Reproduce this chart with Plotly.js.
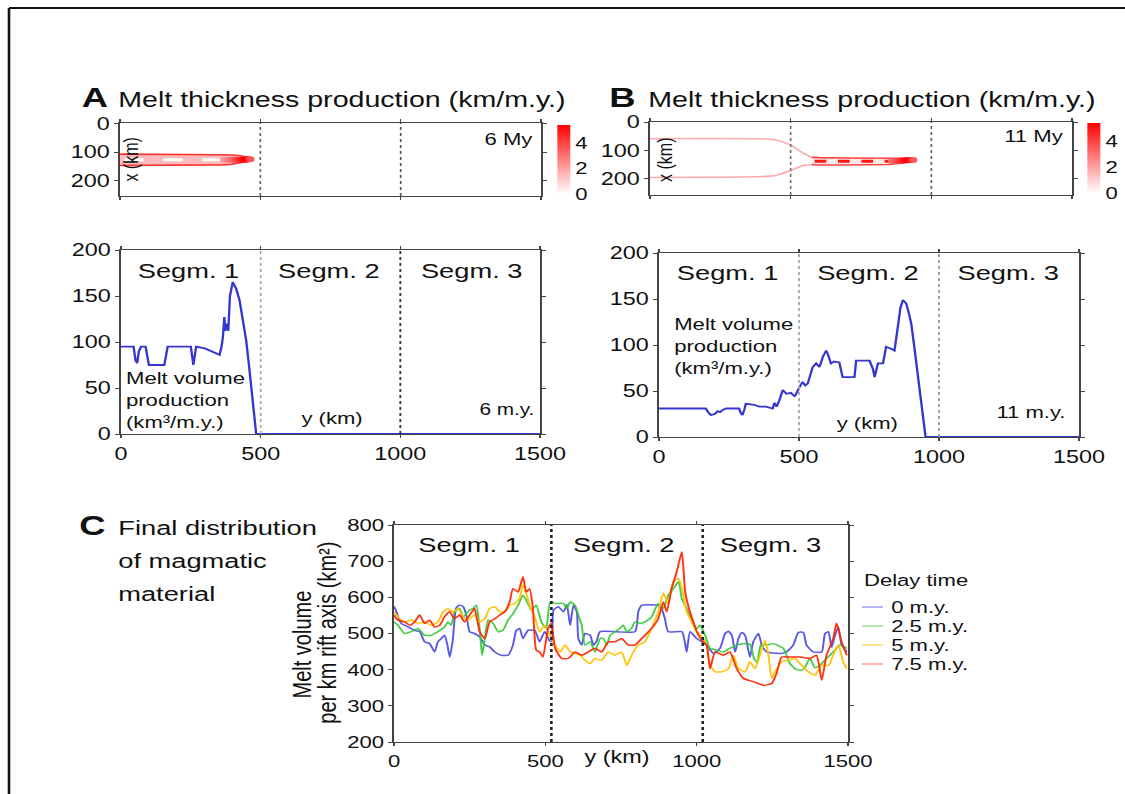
<!DOCTYPE html>
<html><head><meta charset="utf-8">
<script src="https://cdn.plot.ly/plotly-3.0.1.min.js"></script>
<style>
html,body{margin:0;padding:0;background:#fff;overflow:hidden;}
#wrap{width:866px;height:794px;transform:scaleX(1.2991);transform-origin:0 0;}
</style></head><body><div id="wrap"></div>
<script>
// ---------------- data ----------------
const segLabels = ['Segm. 1', 'Segm. 2', 'Segm. 3'];
const segBoundsAB = [500, 1000];
const segBoundsC = [520, 1020];
const xTicks = [0, 500, 1000, 1500];
const xTickText = ['0', '500', '1000', '1500'];

// Panel A top (6 My): melt band, along-axis y (km) vs cross-axis x (km)
const bandA_y = [0, 120, 250, 368, 400, 430, 452, 463];
const bandA_upper = [107, 107, 108, 109, 110, 113, 118, 124];
const bandA_lower = [147, 147, 146, 145, 143, 138, 133, 128];
const streakA_y = [15, 425];
const streakA_x = [127, 127];
const tipA_y = [370, 382, 394, 406, 418, 428, 438, 446, 454, 460, 465];
const tipA_x = [127, 127, 127, 127, 127, 127, 126, 126, 126, 125, 125];
const tipA_z = [2.2, 2.6, 3.0, 3.5, 4.0, 4.6, 5.2, 5.4, 5.2, 4.6, 3.6];

// Panel B top (11 My)
const branchB_y = [0, 400, 450, 500, 545, 575];
const branchB_upper = [59, 60, 64, 82, 110, 125];
const branchB_lower = [196, 193, 188, 171, 154, 151];
const bandB_y = [575, 600, 700, 850, 900, 936];
const bandB_upper = [125, 126, 127, 126, 128, 134];
const bandB_lower = [151, 152, 152, 150, 145, 134];
const coreB_y = [585, 880];
const coreB_x = [139, 139];
const tipB_y = [860, 870, 880, 890, 900, 910, 918, 926, 932, 937];
const tipB_x = [138, 138, 137, 137, 136, 135, 135, 134, 134, 134];
const tipB_z = [3.0, 3.4, 3.9, 4.4, 4.9, 5.3, 5.4, 5.0, 4.4, 3.4];

// Panel A bottom: melt volume production, 6 m.y.
const prodA_y = [0, 45, 52, 58, 64, 72, 88, 95, 100, 155, 162, 167, 250, 255, 259, 264, 269, 300, 353, 360, 365, 370, 373, 376, 380, 384, 390, 400, 412, 424, 436, 448, 458, 466, 472, 478, 484, 1500];
const prodA_v = [95, 95, 80, 77, 90, 95, 95, 80, 75, 75, 88, 95, 95, 82, 75, 85, 95, 93, 86, 95, 106, 127, 112, 116, 120, 112, 150, 165, 158, 146, 125, 102, 75, 51, 32, 15, 0, 0];

// Panel B bottom: melt volume production, 11 m.y.
const prodB_y = [0, 167, 178, 185, 200, 209, 218, 225, 239, 286, 292, 298, 305, 310, 340, 358, 382, 400, 406, 412, 420, 430, 442, 455, 471, 485, 492, 501, 513, 522, 531, 540, 549, 561, 573, 585, 597, 603, 608, 614, 625, 644, 652, 656, 698, 701, 704, 752, 758, 764, 770, 776, 782, 800, 806, 811, 829, 841, 853, 862, 871, 883, 892, 901, 910, 919, 931, 943, 952, 1500];
const prodB_v = [31, 31, 26, 24, 25, 28, 27, 29, 31, 31, 26, 24, 30, 36, 35, 33, 33, 32, 31, 37, 33, 40, 51, 47, 48, 44, 49, 54, 60, 56, 58, 68, 76, 80, 76, 87, 94, 90, 85, 80, 82, 81, 70, 65, 65, 75, 83, 83, 78, 74, 65, 72, 80, 80, 90, 98, 96, 94, 120, 140, 149, 145, 135, 123, 102, 80, 43, 14, 0, 0];

// Panel C: final melt volume per km rift axis, by delay time
const delayLabels = ['0 m.y.', '2.5 m.y.', '5 m.y.', '7.5 m.y.'];
const c0_y = [0, 8, 16, 24, 46, 68, 85, 101, 118, 134, 145, 156, 167, 176, 184, 194, 205, 215, 228, 239, 250, 266, 283, 300, 316, 333, 355, 377, 393, 404, 415, 426, 443, 465, 481, 498, 514, 521, 527, 543, 560, 571, 582, 593, 604, 609, 620, 631, 648, 659, 670, 681, 796, 807, 818, 873, 884, 895, 906, 951, 960, 967, 978, 1000, 1017, 1033, 1055, 1077, 1094, 1105, 1116, 1127, 1138, 1149, 1160, 1176, 1187, 1204, 1215, 1231, 1275, 1297, 1319, 1336, 1352, 1363, 1385, 1413, 1424, 1435, 1446, 1457, 1468, 1479, 1496];
const c0_v = [575, 560, 540, 528, 518, 509, 505, 477, 472, 449, 477, 486, 495, 470, 435, 480, 570, 578, 575, 551, 505, 500, 491, 468, 463, 449, 440, 440, 468, 509, 514, 486, 509, 509, 477, 505, 480, 478, 565, 574, 560, 580, 523, 578, 560, 486, 468, 500, 495, 468, 480, 505, 505, 560, 578, 578, 569, 541, 505, 505, 480, 449, 505, 486, 477, 468, 445, 459, 500, 506, 495, 449, 486, 503, 495, 435, 477, 500, 468, 449, 445, 449, 468, 503, 503, 468, 449, 449, 500, 505, 462, 495, 518, 468, 449];
const c25_y = [0, 13, 35, 57, 79, 101, 123, 145, 167, 178, 189, 200, 217, 228, 250, 261, 272, 283, 291, 300, 311, 327, 344, 360, 377, 393, 410, 426, 437, 454, 470, 487, 503, 516, 538, 560, 571, 582, 598, 609, 620, 631, 648, 664, 681, 692, 703, 714, 730, 747, 758, 769, 785, 796, 813, 829, 851, 873, 890, 906, 923, 940, 951, 967, 984, 1000, 1011, 1028, 1044, 1066, 1088, 1110, 1132, 1154, 1176, 1190, 1200, 1212, 1231, 1253, 1286, 1308, 1330, 1352, 1374, 1391, 1407, 1429, 1451, 1474, 1496];
const c25_v = [532, 523, 500, 505, 514, 495, 495, 505, 518, 532, 523, 560, 569, 546, 565, 569, 578, 514, 440, 486, 537, 528, 505, 509, 537, 555, 578, 606, 592, 565, 578, 532, 514, 587, 583, 583, 569, 587, 578, 551, 523, 468, 477, 449, 486, 486, 468, 495, 505, 514, 523, 505, 514, 532, 528, 532, 546, 583, 569, 606, 624, 643, 596, 569, 537, 514, 523, 495, 459, 454, 449, 459, 468, 472, 470, 430, 420, 468, 468, 472, 459, 417, 400, 400, 431, 405, 412, 431, 449, 468, 459];
const c5_y = [0, 13, 35, 57, 79, 101, 123, 145, 162, 178, 195, 211, 228, 244, 266, 283, 300, 316, 333, 349, 366, 382, 399, 415, 426, 437, 448, 465, 481, 498, 514, 532, 549, 565, 582, 598, 615, 631, 648, 664, 686, 708, 730, 752, 769, 785, 807, 829, 851, 873, 890, 906, 923, 940, 951, 967, 984, 1000, 1017, 1033, 1044, 1061, 1083, 1105, 1121, 1138, 1160, 1176, 1193, 1209, 1226, 1237, 1248, 1259, 1281, 1303, 1325, 1347, 1369, 1391, 1413, 1435, 1451, 1468, 1484, 1496];
const c5_v = [560, 546, 532, 537, 528, 532, 523, 532, 560, 569, 560, 569, 546, 537, 551, 532, 541, 569, 574, 560, 560, 578, 583, 597, 634, 611, 578, 546, 505, 523, 495, 468, 449, 468, 449, 445, 440, 426, 417, 431, 426, 449, 440, 449, 412, 440, 468, 477, 514, 560, 611, 583, 643, 652, 624, 560, 532, 505, 491, 468, 412, 394, 394, 403, 440, 403, 394, 422, 403, 440, 481, 440, 376, 394, 422, 426, 431, 412, 394, 385, 412, 412, 440, 468, 422, 403];
const c75_y = [0, 13, 35, 52, 68, 85, 101, 118, 134, 151, 167, 184, 200, 217, 233, 250, 266, 283, 300, 316, 333, 349, 366, 382, 393, 410, 426, 437, 448, 459, 470, 481, 492, 509, 520, 532, 554, 576, 598, 620, 642, 664, 686, 708, 730, 752, 774, 796, 818, 835, 851, 873, 890, 901, 917, 934, 951, 962, 973, 989, 1006, 1022, 1033, 1044, 1061, 1088, 1110, 1132, 1154, 1187, 1220, 1248, 1264, 1281, 1308, 1341, 1374, 1396, 1413, 1429, 1451, 1462, 1479, 1496];
const c75_v = [551, 537, 532, 523, 532, 551, 528, 537, 518, 523, 546, 560, 541, 551, 532, 551, 569, 505, 486, 532, 541, 551, 560, 587, 624, 615, 657, 615, 624, 569, 454, 449, 435, 514, 528, 459, 431, 431, 449, 440, 449, 459, 449, 477, 477, 486, 468, 468, 486, 500, 514, 541, 587, 560, 624, 670, 726, 615, 574, 532, 495, 477, 468, 403, 449, 440, 449, 403, 376, 367, 357, 362, 390, 435, 435, 435, 431, 440, 371, 440, 486, 528, 477, 440];

// ---------------- layout helpers ----------------
const W = 1125, H = 794;
const fx = v => v / W;
const fy = v => 1 - v / H;
const FONT = 'Liberation Sans, Arial, Helvetica, sans-serif';
const INK = '#111';
const cScale = [[0, '#ffffff'], [1, '#ff0000']];
const seriesColors = ['rgba(70,70,225,0.9)', 'rgba(50,200,50,0.9)', 'rgba(255,195,0,0.95)', 'rgba(255,40,0,0.95)'];
const legendColors = ['rgba(90,90,235,0.6)', 'rgba(70,210,70,0.6)', 'rgba(255,200,40,0.7)', 'rgba(255,90,50,0.6)'];

const traces = [];
// A top
traces.push({x: bandA_y, y: bandA_upper, xaxis: 'x', yaxis: 'y', mode: 'lines', line: {color: 'rgba(255,20,20,0.85)', width: 1.6}, showlegend: false, hoverinfo: 'skip'});
traces.push({x: bandA_y, y: bandA_lower, xaxis: 'x', yaxis: 'y', mode: 'lines', fill: 'tonexty', fillcolor: 'rgba(255,60,60,0.35)', line: {color: 'rgba(255,20,20,0.85)', width: 1.6}, showlegend: false, hoverinfo: 'skip'});
traces.push({x: streakA_y, y: streakA_x, xaxis: 'x', yaxis: 'y', mode: 'lines', line: {color: '#ffffff', width: 3, dash: 'longdash'}, showlegend: false, hoverinfo: 'skip'});
traces.push({x: tipA_y, y: tipA_x, xaxis: 'x', yaxis: 'y', mode: 'markers', showlegend: false, hoverinfo: 'skip',
  marker: {color: tipA_z, colorscale: cScale, cmin: 0, cmax: 5.4, size: 6, line: {width: 0}, showscale: true,
    colorbar: {x: fx(557), xanchor: 'left', y: fy(159.5), yanchor: 'middle', len: 69 / H, lenmode: 'fraction', thickness: 10, thicknessmode: 'pixels', tickvals: [0, 2, 4], ticks: '', tickfont: {size: 17, color: INK, family: FONT}, outlinewidth: 0, xpad: 0, ypad: 0}}});
// B top
traces.push({x: branchB_y, y: branchB_upper, xaxis: 'x3', yaxis: 'y3', mode: 'lines', line: {color: 'rgba(255,60,60,0.45)', width: 1.5, shape: 'spline', smoothing: 0.8}, showlegend: false, hoverinfo: 'skip'});
traces.push({x: branchB_y, y: branchB_lower, xaxis: 'x3', yaxis: 'y3', mode: 'lines', line: {color: 'rgba(255,60,60,0.45)', width: 1.5, shape: 'spline', smoothing: 0.8}, showlegend: false, hoverinfo: 'skip'});
traces.push({x: bandB_y, y: bandB_upper, xaxis: 'x3', yaxis: 'y3', mode: 'lines', line: {color: 'rgba(255,20,20,0.8)', width: 1.6}, showlegend: false, hoverinfo: 'skip'});
traces.push({x: bandB_y, y: bandB_lower, xaxis: 'x3', yaxis: 'y3', mode: 'lines', fill: 'tonexty', fillcolor: 'rgba(255,80,80,0.12)', line: {color: 'rgba(255,20,20,0.8)', width: 1.6}, showlegend: false, hoverinfo: 'skip'});
traces.push({x: coreB_y, y: coreB_x, xaxis: 'x3', yaxis: 'y3', mode: 'lines', line: {color: 'rgba(255,0,0,0.9)', width: 3, dash: 'dash'}, showlegend: false, hoverinfo: 'skip'});
traces.push({x: tipB_y, y: tipB_x, xaxis: 'x3', yaxis: 'y3', mode: 'markers', showlegend: false, hoverinfo: 'skip',
  marker: {color: tipB_z, colorscale: cScale, cmin: 0, cmax: 5.4, size: 6, line: {width: 0}, showscale: true,
    colorbar: {x: fx(1087), xanchor: 'left', y: fy(158), yanchor: 'middle', len: 70 / H, lenmode: 'fraction', thickness: 10, thicknessmode: 'pixels', tickvals: [0, 2, 4], ticks: '', tickfont: {size: 17, color: INK, family: FONT}, outlinewidth: 0, xpad: 0, ypad: 0}}});
// A / B bottom
traces.push({x: prodA_y, y: prodA_v, xaxis: 'x2', yaxis: 'y2', mode: 'lines', line: {color: '#3535d0', width: 1.8}, showlegend: false});
traces.push({x: prodB_y, y: prodB_v, xaxis: 'x4', yaxis: 'y4', mode: 'lines', line: {color: '#3535d0', width: 1.8}, showlegend: false});
// C
const cY = [c0_y, c25_y, c5_y, c75_y];
const cV = [c0_v, c25_v, c5_v, c75_v];
for (let i = 0; i < 4; i++) {
  traces.push({x: cY[i], y: cV[i], xaxis: 'x5', yaxis: 'y5', mode: 'lines', name: delayLabels[i], line: {color: seriesColors[i], width: 1.5, shape: 'spline', smoothing: 0.5}, showlegend: false});
}

function xax(dom, anchor, labels, fs) {
  return {domain: dom, anchor: anchor, range: [0, 1500], tickvals: xTicks, ticktext: xTickText, showticklabels: labels,
    ticks: 'outside', ticklen: 3, tickcolor: '#444', mirror: 'ticks', showline: true, linecolor: '#444', linewidth: 1.3,
    showgrid: false, zeroline: false, tickfont: {size: fs || 18, color: INK, family: FONT}, fixedrange: true};
}
function yax(dom, anchor, range, vals, fs) {
  return {domain: dom, anchor: anchor, range: range, tickvals: vals, ticks: 'outside', ticklen: 3, tickcolor: '#444',
    mirror: 'ticks', showline: true, linecolor: '#444', linewidth: 1.3, showgrid: false, zeroline: false,
    tickfont: {size: fs || 18, color: INK, family: FONT}, fixedrange: true};
}

const shapes = [];
function segLines(xr, yr, bounds, colors, dash, width) {
  bounds.forEach((b, i) => shapes.push({type: 'line', xref: xr, yref: yr + ' domain', x0: b, x1: b, y0: 0, y1: 1,
    line: {color: colors[i], width: width, dash: dash}}));
}
segLines('x', 'y', segBoundsAB, ['#666', '#555'], 'dot', 1.3);
segLines('x2', 'y2', segBoundsAB, ['#aaa', '#333'], 'dot', 1.4);
segLines('x3', 'y3', segBoundsAB, ['#777', '#666'], 'dot', 1.3);
segLines('x4', 'y4', segBoundsAB, ['#aaa', '#999'], 'dot', 1.4);
segLines('x5', 'y5', segBoundsC, ['#222', '#222'], 'dot', 2);
// outer frame of the figure
shapes.push({type: 'line', xref: 'paper', yref: 'paper', x0: fx(9), x1: fx(9), y0: -0.02, y1: fy(8), line: {color: '#111', width: 2}});
shapes.push({type: 'line', xref: 'paper', yref: 'paper', x0: fx(9), x1: 1.02, y0: fy(8), y1: fy(8), line: {color: '#111', width: 2}});
// manual legend samples
const legY = [607, 626, 645, 664];
legendColors.forEach((c, i) => shapes.push({type: 'line', xref: 'paper', yref: 'paper', x0: fx(862), x1: fx(883), y0: fy(legY[i]), y1: fy(legY[i]), line: {color: c, width: 1.5}}));

const ann = [];
function P(x, y, text, size, opts) {
  ann.push(Object.assign({xref: 'paper', yref: 'paper', x: fx(x), y: fy(y), text: text, showarrow: false,
    xanchor: 'left', yanchor: 'middle', font: {size: size, color: INK, family: FONT}}, opts || {}));
}
function D(xr, yr, x, y, text, size) {
  ann.push({xref: xr, yref: yr, x: x, y: y, text: text, showarrow: false, xanchor: 'center', yanchor: 'middle',
    font: {size: size, color: INK, family: FONT}});
}
// Titles
P(79, 98, '<b>A</b>', 28);
P(116, 100, 'Melt thickness production (km/m.y.)', 22);
P(607, 98, '<b>B</b>', 28);
P(646, 100, 'Melt thickness production (km/m.y.)', 22);
P(77, 525, '<b>C</b>', 28);
P(116, 527, 'Final distribution', 21);
P(116, 560, 'of magmatic', 21);
P(116, 593, 'material', 21);
// Top heatmap labels
P(535, 140, '6 My', 17, {xanchor: 'right'});
P(1067, 137, '11 My', 17, {xanchor: 'right'});
P(132, 160, 'x (km)', 16, {xanchor: 'center', textangle: -90});
P(665, 160, 'x (km)', 16, {xanchor: 'center', textangle: -90});
// Segment labels
const segXA = [240, 745, 1253], segXB = [246, 746, 1246], segXC = [248, 760, 1242];
segLabels.forEach((s, i) => D('x2', 'y2', segXA[i], 178, s, 21));
segLabels.forEach((s, i) => D('x4', 'y4', segXB[i], 179, s, 21));
segLabels.forEach((s, i) => D('x5', 'y5', segXC[i], 745, s, 21));
// A / B bottom labels
P(124, 400, 'Melt volume<br>production<br>(km³/m.y.)', 17, {align: 'left'});
P(332, 418, 'y (km)', 17, {xanchor: 'center'});
P(536, 410, '6 m.y.', 16, {xanchor: 'right'});
P(671, 346, 'Melt volume<br>production<br>(km³/m.y.)', 17, {align: 'left'});
P(867, 423, 'y (km)', 17, {xanchor: 'center'});
P(1068, 412, '11 m.y.', 17, {xanchor: 'right'});
// C axis titles
P(302, 644, 'Melt volume', 20, {xanchor: 'center', textangle: -90});
P(327, 633, 'per km rift axis (km²)', 20, {xanchor: 'center', textangle: -90});
P(617, 757, 'y (km)', 18, {xanchor: 'center'});
// manual legend text
P(861, 580, 'Delay time', 17);
delayLabels.forEach((t, i) => P(888, legY[i], t, 17));

const layout = {
  width: 866, height: 794, autosize: false,
  margin: {l: 0, r: 0, t: 0, b: 0},
  paper_bgcolor: '#ffffff', plot_bgcolor: '#ffffff',
  font: {family: FONT, color: INK},
  showlegend: false,
  xaxis: xax([fx(120), fx(541)], 'y', false),
  yaxis: yax([fy(196), fy(123)], 'x', [255, -3], [0, 100, 200]),
  xaxis2: xax([fx(121), fx(540)], 'y2', true),
  yaxis2: yax([fy(434), fy(250)], 'x2', [0, 200], [0, 50, 100, 150, 200]),
  xaxis3: xax([fx(650), fx(1072)], 'y3', false),
  yaxis3: yax([fy(195), fy(122)], 'x3', [258, 0], [0, 100, 200]),
  xaxis4: xax([fx(659), fx(1079)], 'y4', true),
  yaxis4: yax([fy(437), fy(253)], 'x4', [0, 200], [0, 50, 100, 150, 200]),
  xaxis5: xax([fx(394), fx(848)], 'y5', true, 17),
  yaxis5: yax([fy(742), fy(525)], 'x5', [200, 800], [200, 300, 400, 500, 600, 700, 800], 17),
  shapes: shapes,
  annotations: ann
};
Plotly.newPlot('wrap', traces, layout, {staticPlot: true, displayModeBar: false});
</script></body></html>
